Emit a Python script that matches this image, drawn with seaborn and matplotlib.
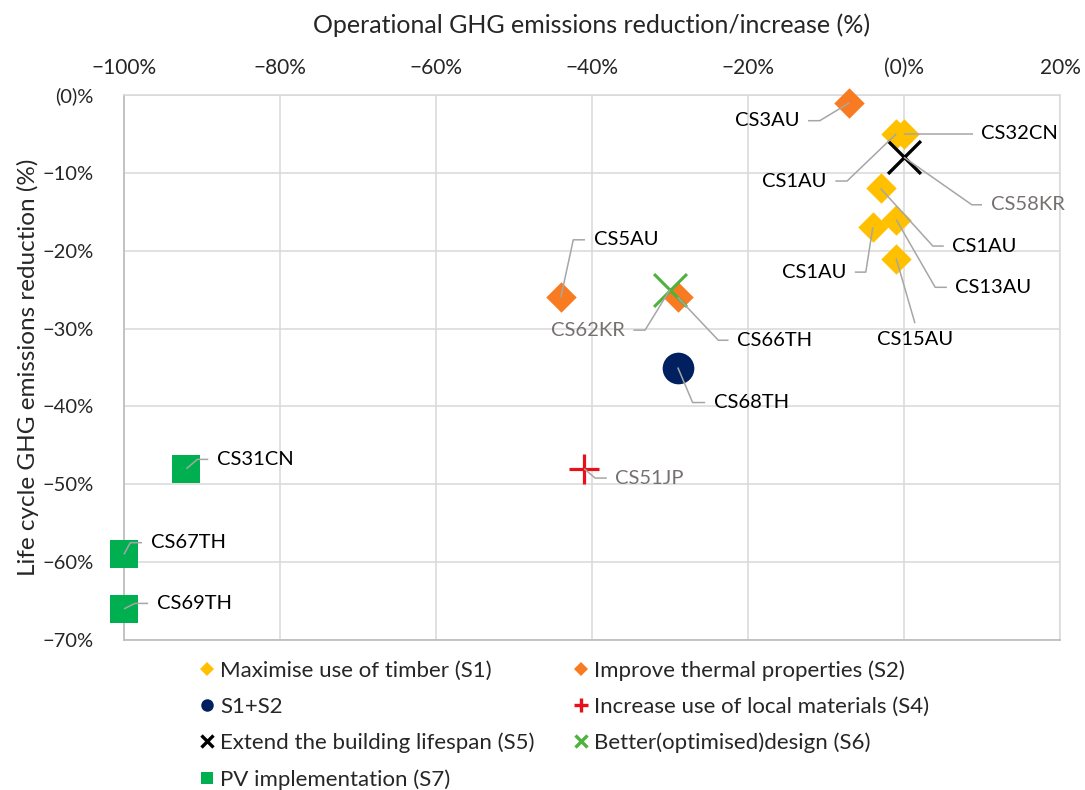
import matplotlib
matplotlib.use("Agg")
import matplotlib.pyplot as plt
from matplotlib.lines import Line2D
import seaborn as sns
import pandas as pd

# ---------------- data ----------------
s1_x = [0, -1, -3, -4, -1, -1]
s1_y = [-5, -5, -12, -17, -16, -21]
s1_lab = ["CS32CN", "CS1AU", "CS1AU", "CS1AU", "CS13AU", "CS15AU"]

s2_x = [-7, -44, -29]
s2_y = [-1, -26, -26]
s2_lab = ["CS3AU", "CS5AU", "CS66TH"]

s12_x = [-29]
s12_y = [-35]
s12_lab = ["CS68TH"]

s4_x = [-41]
s4_y = [-48]
s4_lab = ["CS51JP"]

s5_x = [0]
s5_y = [-8]
s5_lab = ["CS58KR"]

s6_x = [-30]
s6_y = [-25]
s6_lab = ["CS62KR"]

s7_x = [-92, -100, -100]
s7_y = [-48, -59, -66]
s7_lab = ["CS31CN", "CS67TH", "CS69TH"]

x_ticks = [-100, -80, -60, -40, -20, 0, 20]
x_tick_labels = ["\u2212100%", "\u221280%", "\u221260%", "\u221240%", "\u221220%", "(0)%", "20%"]
y_ticks = [0, -10, -20, -30, -40, -50, -60, -70]
y_tick_labels = ["(0)%", "\u221210%", "\u221220%", "\u221230%", "\u221240%", "\u221250%", "\u221260%", "\u221270%"]

series_names = ["Maximise use of timber (S1)", "Improve thermal properties (S2)", "S1+S2",
                "Increase use of local materials (S4)", "Extend the building lifespan (S5)",
                "Better(optimised)design (S6)", "PV implementation (S7)"]

# label layout: (elbow dx, elbow dy, horizontal length (signed), text colour) in data units
layout = {
    ("S1", 0): (0.0, 0.0, 8.8, "black"),
    ("S1", 1): (-6.3, -6.05, -1.5, "black"),
    ("S1", 2): (6.7, -7.4, 1.4, "black"),
    ("S1", 3): (-0.9, -5.75, -1.4, "black"),
    ("S1", 4): (5.0, -8.7, 1.5, "black"),
    ("S1", 5): (2.4, -8.3, 0.0, "black"),
    ("S2", 0): (-3.8, -2.3, -1.5, "black"),
    ("S2", 1): (1.6, 7.4, 1.5, "black"),
    ("S2", 2): (5.2, -5.5, 1.3, "black"),
    ("S12", 0): (1.9, -4.5, 1.6, "black"),
    ("S4", 0): (1.4, -1.2, 1.5, "#767171"),
    ("S5", 0): (8.7, -6.1, 1.3, "#767171"),
    ("S6", 0): (-3.2, -5.2, -1.5, "#767171"),
    ("S7", 0): (1.4, 1.2, 1.4, "black"),
    ("S7", 1): (0.8, 1.5, 1.5, "black"),
    ("S7", 2): (1.4, 0.7, 1.7, "black"),
}

# ---------------- style ----------------
sns.set_theme(style="white")
plt.rcParams["font.family"] = ["Lato", "DejaVu Sans"]

fig = plt.figure(figsize=(10.85, 7.9), dpi=100)
ax = fig.add_axes([124 / 1085, 1 - 640 / 790, (1060 - 124) / 1085, (640 - 95) / 790])

YEL = "#FFC000"
ORA = "#F87B22"
NAV = "#002060"
RED = "#E8101A"
BLK = "#000000"
GRN_X = "#4DB33D"
GRN_S = "#00B050"

groups = [
    ("S1", s1_x, s1_y, s1_lab, "D", YEL, 240, 0),
    ("S2", s2_x, s2_y, s2_lab, "D", ORA, 240, 0),
    ("S12", s12_x, s12_y, s12_lab, "o", NAV, 520, 0),
    ("S4", s4_x, s4_y, s4_lab, "+", RED, 480, 2.3),
    ("S5", s5_x, s5_y, s5_lab, "x", BLK, 560, 2.4),
    ("S6", s6_x, s6_y, s6_lab, "x", GRN_X, 560, 2.2),
    ("S7", s7_x, s7_y, s7_lab, "s", GRN_S, 380, 0),
]

for key, xs, ys, labs, mk, col, size, lw in groups:
    df = pd.DataFrame({"x": xs, "y": ys})
    if mk in ("x", "+"):
        sns.scatterplot(data=df, x="x", y="y", ax=ax, marker=mk, color=col, s=size,
                        linewidth=lw, zorder=4, clip_on=False, legend=False)
    else:
        sns.scatterplot(data=df, x="x", y="y", ax=ax, marker=mk, color=col, s=size,
                        linewidth=0, zorder=3, clip_on=False, legend=False)

LABEL_FS = 14.5
# leader lines and labels
for key, xs, ys, labs, mk, col, size, lw in groups:
    for i, (px, py, lab) in enumerate(zip(xs, ys, labs)):
        dx, dy, hl, tcol = layout[(key, i)]
        ex, ey = px + dx, py + dy
        hx = ex + hl
        ax.plot([px, ex, hx], [py, ey, ey], color="#A6A6A6", lw=1.1, zorder=5,
                clip_on=False, solid_capstyle="butt")
        if hl == 0:
            ax.text(ex, ey - 1.0, lab, ha="center", va="top", fontsize=LABEL_FS,
                    color=tcol, zorder=6)
        elif hl > 0:
            ax.text(hx + 1.1, ey, lab, ha="left", va="center", fontsize=LABEL_FS,
                    color=tcol, zorder=6)
        else:
            ax.text(hx - 1.1, ey, lab, ha="right", va="center", fontsize=LABEL_FS,
                    color=tcol, zorder=6)

ax.set_xlim(-100, 20)
ax.set_ylim(-70, 0)
ax.set_xticks(x_ticks)
ax.set_xticklabels(x_tick_labels)
ax.set_yticks(y_ticks)
ax.set_yticklabels(y_tick_labels)
ax.xaxis.tick_top()
ax.xaxis.set_label_position("top")
ax.tick_params(axis="x", length=0, pad=12, labelsize=15)
ax.tick_params(axis="y", length=0, pad=22, labelsize=14.5)
ax.grid(True, color="#D9D9D9", lw=1.1)
ax.set_axisbelow(True)
for side in ["top", "right"]:
    ax.spines[side].set_color("#D9D9D9")
    ax.spines[side].set_linewidth(1.1)
for side in ["left", "bottom"]:
    ax.spines[side].set_color("#BFBFBF")
    ax.spines[side].set_linewidth(1.3)

ax.set_xlabel("Operational GHG emissions reduction/increase (%)", fontsize=18)
ax.set_ylabel("Life cycle GHG emissions reduction (%)", fontsize=17.5)
ax.xaxis.set_label_coords(0.5, 1 + 70 / 545)
ax.xaxis.label.set_va("center")
ax.yaxis.set_label_coords(-96 / 936, 0.5)
ax.yaxis.label.set_va("center")

# legend (column-major order to reproduce row-major reading)
h = {
    "S1": Line2D([], [], ls="", marker="D", color=YEL, ms=7, mew=0),
    "S2": Line2D([], [], ls="", marker="D", color=ORA, ms=7.5, mew=0),
    "S12": Line2D([], [], ls="", marker="o", color=NAV, ms=9, mew=0),
    "S4": Line2D([], [], ls="", marker="+", color=RED, ms=10, mew=2.4),
    "S5": Line2D([], [], ls="", marker="x", color=BLK, ms=9, mew=2.4),
    "S6": Line2D([], [], ls="", marker="x", color=GRN_X, ms=9, mew=2.4),
    "S7": Line2D([], [], ls="", marker="s", color=GRN_S, ms=9, mew=0),
}
order = [("S1", 0), ("S12", 2), ("S5", 4), ("S7", 6), ("S2", 1), ("S4", 3), ("S6", 5)]
fig.legend([h[k] for k, _ in order], [series_names[j] for _, j in order],
           loc="upper left", bbox_to_anchor=(200 / 1085, 1 - 660 / 790), ncol=2,
           frameon=False, fontsize=16, handlelength=0.6, handletextpad=0.3,
           columnspacing=1.8, labelspacing=0.72, borderaxespad=0, borderpad=0)

fig.savefig("out.png", dpi=100)
